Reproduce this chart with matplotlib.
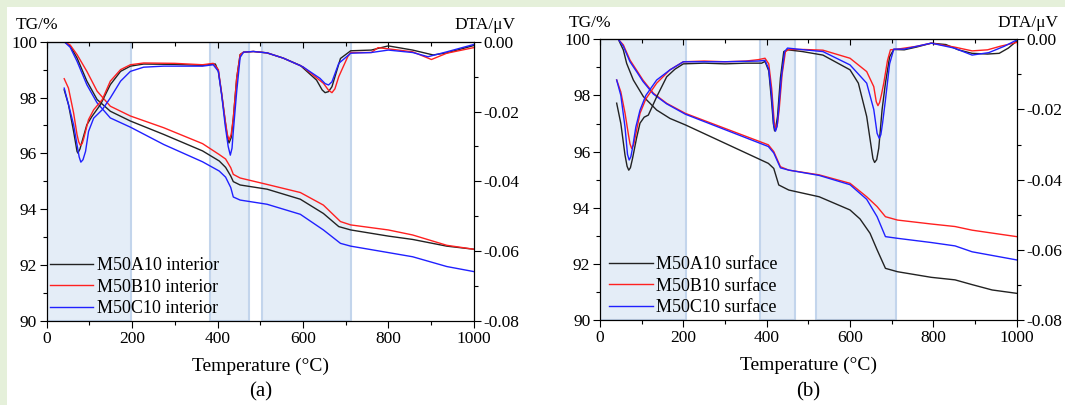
import matplotlib
matplotlib.use("Agg")
import matplotlib.pyplot as plt
from matplotlib.patches import Rectangle
from matplotlib.ticker import MultipleLocator, FormatStrFormatter

plt.rcParams['font.family'] = ['Liberation Serif', 'DejaVu Serif']
plt.rcParams['axes.unicode_minus'] = False

# ---------- panel (a): interior ----------
a_tg_T_black = [41, 55, 71, 94, 118, 149, 196, 274, 365, 404, 419, 431, 437, 453, 516, 594, 648, 684, 712, 800, 857, 937, 1000]
a_tg_black = [100.0, 99.85, 99.42, 98.59, 97.93, 97.51, 97.16, 96.68, 96.09, 95.73, 95.5, 95.19, 94.99, 94.87, 94.72, 94.36, 93.85, 93.38, 93.26, 93.04, 92.92, 92.68, 92.57]
a_tg_T_red = [41, 55, 71, 94, 118, 149, 196, 274, 365, 404, 419, 431, 437, 453, 516, 594, 648, 688, 712, 800, 857, 937, 1000]
a_tg_red = [100.0, 99.88, 99.54, 98.94, 98.23, 97.69, 97.34, 96.92, 96.35, 95.96, 95.8, 95.49, 95.25, 95.12, 94.89, 94.6, 94.15, 93.56, 93.44, 93.26, 93.08, 92.71, 92.57]
a_tg_T_blue = [41, 55, 71, 94, 118, 149, 196, 274, 365, 404, 419, 431, 437, 453, 516, 594, 648, 688, 712, 800, 857, 937, 1000]
a_tg_blue = [100.0, 99.8, 99.3, 98.46, 97.81, 97.27, 96.94, 96.32, 95.7, 95.37, 95.15, 94.78, 94.44, 94.33, 94.18, 93.82, 93.26, 92.78, 92.68, 92.45, 92.3, 91.95, 91.77]

a_dta_T_black = [41, 51, 63, 71, 73, 78, 83, 94, 106, 126, 149, 173, 196, 227, 300, 365, 390, 395, 402, 410, 418, 423, 427, 432, 437, 445, 453, 461, 484, 516, 554, 594, 632, 645, 652, 660, 668, 688, 712, 760, 800, 857, 905, 937, 1000]
a_dta_black = [-0.0138, -0.018, -0.0257, -0.0314, -0.0319, -0.0307, -0.0285, -0.0238, -0.0214, -0.018, -0.0123, -0.0085, -0.007, -0.0064, -0.0065, -0.0068, -0.0064, -0.0064, -0.0085, -0.0152, -0.0228, -0.0272, -0.029, -0.0275, -0.022, -0.0104, -0.0037, -0.003, -0.0028, -0.0032, -0.0047, -0.0068, -0.011, -0.0138, -0.0146, -0.0143, -0.0129, -0.0048, -0.0026, -0.0024, -0.0012, -0.0024, -0.0038, -0.0032, -0.0011]
a_dta_T_red = [41, 51, 63, 71, 75, 79, 83, 87, 98, 110, 130, 149, 173, 196, 227, 300, 365, 390, 402, 410, 418, 423, 427, 432, 437, 445, 453, 461, 484, 516, 554, 600, 648, 660, 668, 675, 684, 705, 712, 760, 776, 857, 901, 937, 1000]
a_dta_red = [-0.0106, -0.0133, -0.0204, -0.0266, -0.0287, -0.0297, -0.0292, -0.0276, -0.0223, -0.0195, -0.0166, -0.0113, -0.008, -0.0066, -0.0061, -0.0062, -0.0066, -0.0062, -0.008, -0.015, -0.0225, -0.0265, -0.0281, -0.0266, -0.0219, -0.0104, -0.0037, -0.003, -0.0028, -0.0032, -0.0047, -0.0072, -0.0119, -0.0139, -0.0146, -0.0135, -0.01, -0.0043, -0.0031, -0.0031, -0.0017, -0.0029, -0.0051, -0.0033, -0.0017]
a_dta_T_blue = [41, 51, 63, 71, 76, 80, 85, 91, 98, 110, 130, 149, 173, 196, 227, 274, 365, 390, 402, 410, 418, 425, 430, 434, 437, 445, 453, 461, 484, 516, 554, 600, 640, 652, 660, 668, 684, 712, 760, 800, 857, 893, 937, 1000]
a_dta_blue = [-0.0133, -0.018, -0.0238, -0.0295, -0.033, -0.0345, -0.0338, -0.0314, -0.0257, -0.0219, -0.0195, -0.0161, -0.0113, -0.0085, -0.0073, -0.007, -0.007, -0.0066, -0.0085, -0.0155, -0.024, -0.03, -0.0325, -0.0305, -0.0257, -0.0142, -0.0045, -0.003, -0.0028, -0.0032, -0.0047, -0.0072, -0.0105, -0.012, -0.0124, -0.0115, -0.0062, -0.0033, -0.0031, -0.0024, -0.0031, -0.0043, -0.0029, -0.0008]

# ---------- panel (b): surface ----------
b_tg_T_black = [44, 56, 64, 80, 104, 136, 168, 205, 404, 417, 429, 453, 526, 600, 624, 648, 665, 685, 714, 795, 852, 893, 941, 1000]
b_tg_black = [100.0, 99.62, 99.14, 98.55, 97.96, 97.48, 97.18, 96.95, 95.58, 95.4, 94.81, 94.63, 94.39, 93.92, 93.6, 93.09, 92.5, 91.84, 91.72, 91.52, 91.43, 91.26, 91.07, 90.95]
b_tg_T_red = [44, 56, 72, 90, 103, 128, 160, 205, 404, 417, 433, 453, 526, 600, 640, 665, 685, 714, 795, 852, 893, 1000]
b_tg_red = [100.0, 99.8, 99.26, 98.85, 98.55, 98.08, 97.72, 97.36, 96.24, 96.0, 95.46, 95.34, 95.17, 94.87, 94.39, 94.04, 93.68, 93.56, 93.42, 93.33, 93.2, 92.97]
b_tg_T_blue = [44, 56, 72, 90, 103, 128, 160, 205, 404, 417, 433, 453, 526, 600, 640, 665, 685, 714, 795, 852, 893, 1000]
b_tg_blue = [100.0, 99.75, 99.2, 98.8, 98.5, 98.05, 97.7, 97.33, 96.18, 95.95, 95.42, 95.34, 95.15, 94.82, 94.3, 93.68, 92.97, 92.91, 92.76, 92.64, 92.43, 92.14]

b_dta_T_black = [40, 50, 60, 65, 69, 73, 78, 88, 96, 106, 116, 126, 136, 160, 180, 200, 250, 300, 350, 388, 396, 405, 412, 416, 419, 422, 426, 433, 441, 451, 486, 535, 600, 620, 640, 650, 655, 659, 664, 669, 677, 685, 695, 705, 730, 760, 795, 830, 860, 893, 930, 958, 980, 1000]
b_dta_black = [-0.0182, -0.024, -0.033, -0.0362, -0.0373, -0.0366, -0.034, -0.028, -0.0239, -0.0222, -0.0216, -0.019, -0.0164, -0.0107, -0.0085, -0.007, -0.0068, -0.007, -0.0068, -0.0068, -0.0063, -0.009, -0.018, -0.024, -0.0261, -0.025, -0.022, -0.011, -0.0035, -0.003, -0.0035, -0.0045, -0.0087, -0.0125, -0.022, -0.03, -0.034, -0.0351, -0.0343, -0.031, -0.02, -0.0125, -0.005, -0.0029, -0.003, -0.0022, -0.0011, -0.0015, -0.003, -0.004, -0.0042, -0.004, -0.0025, -0.0005]
b_dta_T_red = [40, 50, 60, 68, 72, 76, 81, 86, 96, 110, 136, 168, 200, 250, 300, 350, 380, 396, 405, 412, 418, 422, 426, 430, 437, 445, 453, 490, 535, 600, 640, 657, 663, 667, 671, 675, 681, 690, 697, 714, 760, 795, 850, 893, 930, 960, 1000]
b_dta_red = [-0.0116, -0.015, -0.021, -0.027, -0.0298, -0.0311, -0.03, -0.027, -0.0211, -0.017, -0.0125, -0.0087, -0.0064, -0.0062, -0.0064, -0.0062, -0.0058, -0.0054, -0.007, -0.014, -0.0235, -0.0258, -0.024, -0.02, -0.01, -0.0035, -0.0029, -0.0029, -0.0031, -0.0054, -0.0092, -0.0135, -0.0178, -0.0189, -0.018, -0.016, -0.0125, -0.006, -0.003, -0.0028, -0.002, -0.0011, -0.0022, -0.0033, -0.003, -0.002, -0.0009]
b_dta_T_blue = [40, 50, 60, 66, 70, 74, 78, 86, 96, 110, 136, 168, 200, 300, 380, 396, 405, 412, 417, 421, 425, 428, 435, 443, 450, 490, 535, 600, 640, 657, 665, 670, 674, 678, 685, 695, 705, 730, 760, 795, 850, 893, 933, 970, 1000]
b_dta_blue = [-0.0116, -0.016, -0.025, -0.0328, -0.0344, -0.0335, -0.031, -0.025, -0.0202, -0.016, -0.0116, -0.0087, -0.0064, -0.0064, -0.0062, -0.006, -0.0085, -0.016, -0.0245, -0.0262, -0.0248, -0.021, -0.011, -0.0035, -0.0025, -0.003, -0.0035, -0.0073, -0.0125, -0.02, -0.0268, -0.0282, -0.0272, -0.024, -0.0173, -0.007, -0.0028, -0.0028, -0.002, -0.0011, -0.0025, -0.0045, -0.0038, -0.002, -0.0002]

a_spans = [(0, 197), (382, 474), (504, 712)]
b_spans = [(0, 206), (384, 468), (518, 710)]
labels_a = ['M50A10 interior', 'M50B10 interior', 'M50C10 interior']
labels_b = ['M50A10 surface', 'M50B10 surface', 'M50C10 surface']
colors = ['#222222', '#ff2020', '#2020ff']

fig = plt.figure(figsize=(10.65, 4.05), dpi=100, facecolor='#e5f0da')
fig.patches.append(Rectangle((7 / 1065, 0), 1, 398 / 405, transform=fig.transFigure,
                             facecolor='white', edgecolor='none', zorder=-10))


def panel(rect, spans, tg, dta, labels, tag, leg_anchor, tag_y):
    ax = fig.add_axes(rect)
    for lo, hi in spans:
        ax.axvspan(lo, hi, facecolor='#e4edf7', edgecolor='#c3d5ec', lw=1.5, zorder=0)
    for (T, v), c, lab in zip(tg, colors, labels):
        ax.plot(T, v, color=c, lw=1.0, label=lab)
    ax.set_xlim(0, 1000)
    ax.set_ylim(90, 100)
    ax.xaxis.set_major_locator(MultipleLocator(200))
    ax.xaxis.set_minor_locator(MultipleLocator(100))
    ax.yaxis.set_major_locator(MultipleLocator(2))
    ax.yaxis.set_minor_locator(MultipleLocator(1))
    ax.tick_params(which='both', direction='out', labelsize=12.5, width=0.8, pad=2)
    ax.tick_params(which='major', length=5)
    ax.tick_params(which='minor', length=3)
    for s in ax.spines.values():
        s.set_linewidth(0.8)
    top = ax.secondary_xaxis('top')
    top.xaxis.set_major_locator(MultipleLocator(200))
    top.xaxis.set_minor_locator(MultipleLocator(100))
    top.tick_params(which='both', direction='in', labeltop=False, width=0.8)
    top.tick_params(which='major', length=4)
    top.tick_params(which='minor', length=3)
    ax.set_xlabel('Temperature (°C)', fontsize=14, labelpad=8)
    ax.legend(loc='lower left', bbox_to_anchor=leg_anchor, frameon=False, fontsize=13,
              handlelength=2.4, handletextpad=0.2, labelspacing=0.25, borderaxespad=0)

    ax2 = ax.twinx()
    for (T, v), c in zip(dta, colors):
        ax2.plot(T, v, color=c, lw=1.0)
    ax2.set_ylim(-0.08, 0)
    ax2.yaxis.set_major_locator(MultipleLocator(0.02))
    ax2.yaxis.set_minor_locator(MultipleLocator(0.01))
    ax2.yaxis.set_major_formatter(FormatStrFormatter('%.2f'))
    ax2.tick_params(which='both', direction='out', labelsize=12.5, width=0.8, pad=2)
    ax2.tick_params(which='major', length=5)
    ax2.tick_params(which='minor', length=3)
    ax.annotate('TG/%', xy=(0, 1), xycoords='axes fraction', xytext=(-7, 6),
                textcoords='offset points', fontsize=12.5, ha='center', va='bottom')
    ax.annotate('DTA/μV', xy=(1, 1), xycoords='axes fraction', xytext=(8, 6),
                textcoords='offset points', fontsize=12.5, ha='center', va='bottom')
    ax.text(0.5, tag_y, tag, transform=ax.transAxes, fontsize=15, ha='center', va='center')
    return ax


panel([46.7 / 1065, 84 / 405, 427 / 1065, 279.3 / 405], a_spans,
      [(a_tg_T_black, a_tg_black), (a_tg_T_red, a_tg_red), (a_tg_T_blue, a_tg_blue)],
      [(a_dta_T_black, a_dta_black), (a_dta_T_red, a_dta_red), (a_dta_T_blue, a_dta_blue)],
      labels_a, '(a)', (-0.01, -0.012), -0.254)
panel([600 / 1065, 85 / 405, 416.7 / 1065, 280.7 / 405], b_spans,
      [(b_tg_T_black, b_tg_black), (b_tg_T_red, b_tg_red), (b_tg_T_blue, b_tg_blue)],
      [(b_dta_T_black, b_dta_black), (b_dta_T_red, b_dta_red), (b_dta_T_blue, b_dta_blue)],
      labels_b, '(b)', (0.005, -0.012), -0.256)

fig.savefig('out.png', dpi=100, facecolor=fig.get_facecolor())
